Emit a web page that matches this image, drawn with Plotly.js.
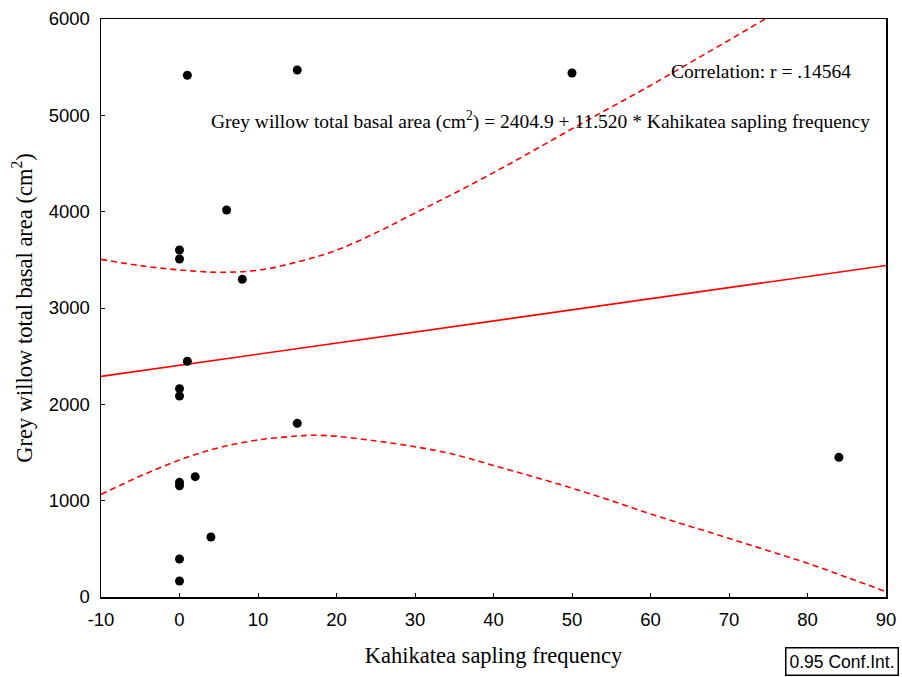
<!DOCTYPE html>
<html>
<head>
<meta charset="utf-8">
<script src="https://cdn.plot.ly/plotly-3.0.1.min.js"></script>
<style>html,body{margin:0;padding:0;background:#fff;}#chart{width:902px;height:677px;}</style>
</head>
<body>
<div id="chart"></div>
<script>
// Observed data: Kahikatea sapling frequency vs Grey willow total basal area (cm²)
var saplingFreq = [0, 0, 4, 0, 0, 2, 0, 0, 1, 8, 0, 0, 6, 1, 15, 50, 15, 84];
var basalArea   = [166, 394, 623, 1190, 1155, 1249, 2163, 2087, 2447, 3298, 3602, 3509, 4017, 5416, 5471, 5440, 1803, 1450];

// Regression line endpoints
var fitX = [-10, 90];
var fitY = [2290, 3442];

// Upper 0.95 confidence band
var upperX = [-10, -5, 0, 5, 10, 15, 20, 25, 30, 35, 40, 45, 50, 55, 60, 65, 70, 75, 80];
var upperY = [3505, 3440, 3395, 3371, 3392, 3478, 3600, 3780, 3985, 4190, 4405, 4630, 4860, 5085, 5310, 5545, 5780, 6020, 6260];

// Lower 0.95 confidence band
var lowerX = [-10, -5, 0, 5, 10, 15, 17, 20, 25, 30, 35, 40, 45, 50, 55, 60, 65, 70, 75, 80, 85, 90];
var lowerY = [1065, 1255, 1422, 1550, 1630, 1671, 1679, 1668, 1620, 1560, 1480, 1365, 1250, 1130, 1000, 862, 735, 609, 480, 350, 205, 55];

// Tick labels
var xTicks = [-10, 0, 10, 20, 30, 40, 50, 60, 70, 80, 90];
var yTicks = [0, 1000, 2000, 3000, 4000, 5000, 6000];

var red = '#ff0000';
var traces = [
  {x: upperX, y: upperY, mode: 'lines', type: 'scatter', line: {color: red, width: 1.6, dash: '6px,4px', shape: 'spline'}, hoverinfo: 'skip'},
  {x: lowerX, y: lowerY, mode: 'lines', type: 'scatter', line: {color: red, width: 1.6, dash: '6px,4px', shape: 'spline'}, hoverinfo: 'skip'},
  {x: fitX, y: fitY, mode: 'lines', type: 'scatter', line: {color: red, width: 1.6}},
  {x: saplingFreq, y: basalArea, mode: 'markers', type: 'scatter', marker: {color: '#000', size: 9}}
];

var serif = 'Liberation Serif, Times New Roman, serif';
var sans = 'Liberation Sans, Arial, sans-serif';

var layout = {
  width: 902, height: 677,
  margin: {l: 101, r: 16, t: 19, b: 80},
  paper_bgcolor: '#fff', plot_bgcolor: '#fff',
  showlegend: false,
  xaxis: {
    range: [-10, 90], tickvals: xTicks, ticktext: xTicks.map(String),
    showgrid: false, zeroline: false,
    showline: true, linecolor: '#000', linewidth: 1.5, mirror: true,
    ticks: 'inside', ticklen: 4, tickcolor: '#000', tickwidth: 1,
    tickfont: {family: sans, size: 18.5, color: '#000'},
    ticklabelstandoff: 5,
    title: {text: 'Kahikatea sapling frequency', font: {family: serif, size: 22.5, color: '#000'}, standoff: 18}
  },
  yaxis: {
    range: [0, 6000], tickvals: yTicks, ticktext: yTicks.map(String),
    showgrid: false, zeroline: false,
    showline: true, linecolor: '#000', linewidth: 1.5, mirror: true,
    ticks: 'inside', ticklen: 4, tickcolor: '#000', tickwidth: 1,
    tickfont: {family: sans, size: 18.5, color: '#000'},
    ticklabelstandoff: 6,
    title: {text: 'Grey willow total basal area (cm<sup>2</sup>)', font: {family: serif, size: 22.5, color: '#000'}, standoff: 10}
  },
  annotations: [
    {xref: 'paper', yref: 'paper', x: (853 - 101) / 785, y: (597 - 72) / 578, xanchor: 'right', yanchor: 'middle',
     text: 'Correlation: r = .14564', showarrow: false, font: {family: serif, size: 19.5, color: '#000'}},
    {xref: 'paper', yref: 'paper', x: (872 - 101) / 785, y: (597 - 120) / 578, xanchor: 'right', yanchor: 'middle',
     text: 'Grey willow total basal area (cm<sup>2</sup>) = 2404.9 + 11.520 * Kahikatea sapling frequency', showarrow: false,
     font: {family: serif, size: 19.5, color: '#000'}},
    {xref: 'paper', yref: 'paper', x: (899 - 101) / 785, y: (597 - 676) / 578, xanchor: 'right', yanchor: 'bottom',
     text: '0.95 Conf.Int.', showarrow: false, font: {family: sans, size: 17.5, color: '#000'},
     bordercolor: '#000', borderwidth: 1.5, borderpad: 3, bgcolor: '#fff'}
  ]
};

Plotly.newPlot('chart', traces, layout, {displayModeBar: false, staticPlot: true});
</script>
</body>
</html>
